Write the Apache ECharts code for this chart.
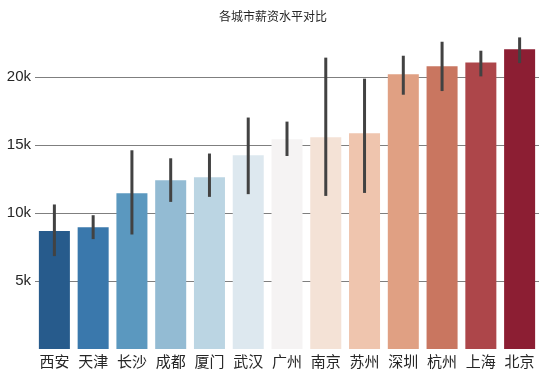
<!DOCTYPE html>
<html><head><meta charset="utf-8">
<script src="https://cdn.jsdelivr.net/npm/echarts@6/dist/echarts.min.js"></script>
<style>html,body{margin:0;padding:0;background:#fff}#c{width:546px;height:375px}</style>
</head><body><div id="c"></div>
<script>
const cities = ['西安','天津','长沙','成都','厦门','武汉','广州','南京','苏州','深圳','杭州','上海','北京'];
const salary = [8680, 8970, 11470, 12430, 12650, 14260, 15440, 15590, 15880, 20220, 20810, 21100, 22060];
const errLow = [6840, 8090, 8430, 10830, 11200, 11400, 14210, 11270, 11490, 18720, 18990, 20070, 21050];
const errHigh = [10640, 9850, 14630, 14040, 14390, 17040, 16740, 21450, 19900, 21590, 22620, 21960, 22940];
const colors = ['#275b8c','#3a78ac','#5b98bf','#93bbd3','#bbd5e3','#dde8ef','#f5f3f3','#f4e2d6','#efc5ae','#e0a083','#c97660','#ad464a','#8c1e33'];
const yTicks = [5000, 10000, 15000, 20000];

const chart = echarts.init(document.getElementById('c'));
chart.setOption({
  animation: false,
  title: {text: '各城市薪资水平对比', left: 'center', top: 5,
    textStyle: {fontSize: 12, fontWeight: 'normal', color: '#262626', fontFamily: 'Noto Sans CJK SC'}},
  grid: {left: 35, right: 7, top: 23, bottom: 26},
  xAxis: {type: 'category', data: cities,
    axisLine: {show: false}, axisTick: {show: false},
    axisLabel: {interval: 0, fontSize: 15, color: '#262626', margin: 5, fontFamily: 'Noto Sans CJK SC'}},
  yAxis: {type: 'value', min: 0, max: 24000, interval: 5000,
    axisLine: {show: false}, axisTick: {show: false},
    splitLine: {show: false},
    axisLabel: {fontSize: 15, color: '#262626', margin: 4, fontFamily: 'Liberation Sans',
      formatter: v => yTicks.includes(v) ? (v/1000) + 'k' : ''}},
  series: [
    {type: 'bar', barCategoryGap: '20%', z: 2,
     data: salary.map((v, i) => ({value: v, itemStyle: {color: colors[i]}})),
     markLine: {silent: true, symbol: 'none', z: 1, label: {show: false},
       lineStyle: {color: '#7f7f7f', width: 1, type: 'solid'},
       data: yTicks.map(t => ({yAxis: t}))}},
    {type: 'custom', z: 10,
     data: cities.map((c, i) => [i, errLow[i], errHigh[i]]),
     renderItem: (params, api) => {
       const a = api.coord([api.value(0), api.value(1)]);
       const b = api.coord([api.value(0), api.value(2)]);
       return {type: 'line', shape: {x1: a[0], y1: a[1], x2: b[0], y2: b[1]},
         style: {stroke: '#424242', lineWidth: 3}};
     }}
  ]
});
</script></body></html>
